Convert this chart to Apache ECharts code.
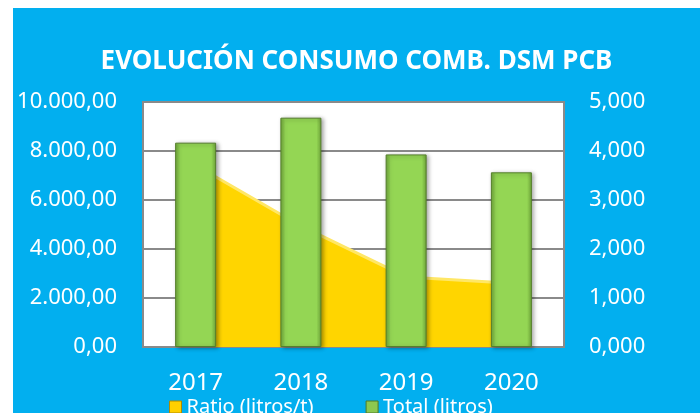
<!DOCTYPE html>
<html>
<head>
<meta charset="utf-8">
<script src="https://cdn.jsdelivr.net/npm/echarts@6/dist/echarts.min.js"></script>
<style>
  html, body { margin: 0; padding: 0; background: #ffffff; }
  #main { position: absolute; left: 13px; top: 8px; width: 687px; height: 405px; }
</style>
</head>
<body>
<div id="main"></div>
<script>
// datos del gráfico
var years = ["2017", "2018", "2019", "2020"];
var totalLitros = [8340, 9360, 7860, 7130];
var ratioLitrosT = [3.71, 2.47, 1.43, 1.3];
var leftTicks = [0, 2000, 4000, 6000, 8000, 10000];
var rightTicks = [0, 1, 2, 3, 4, 5];

// formato español: 10.000,00
function fmtLeft(v) {
  var s = v.toFixed(2).split(".");
  var ent = s[0].replace(/\B(?=(\d{3})+(?!\d))/g, ".");
  return ent + "," + s[1];
}
function fmtRight(v) {
  return v.toFixed(3).replace(".", ",");
}

var myChart = echarts.init(document.getElementById("main"));
myChart.setOption({
  backgroundColor: "#02AFEF",
  animation: false,
  textStyle: { fontFamily: "Noto Sans" },
  title: {
    text: "EVOLUCIÓN CONSUMO COMB. DSM PCB",
    left: "center",
    top: 36,
    textStyle: { color: "#ffffff", fontSize: 26, fontWeight: "bold", fontFamily: "Noto Sans" },
  },
  legend: {
    left: 151,
    top: 384,
    itemWidth: 12,
    itemHeight: 12,
    itemGap: 52,
    icon: "rect",
    textStyle: { color: "#ffffff", fontSize: 20 },
    data: [
      { name: "Ratio (litros/t)", itemStyle: { color: "#FFD000", borderColor: "#B08A00", borderWidth: 1 } },
      { name: "Total (litros)", itemStyle: { color: "#8CC850", borderColor: "#4F7A28", borderWidth: 1 } },
    ],
  },
  grid: {
    left: 130,
    right: 136,
    top: 94,
    bottom: 66,
    show: true,
    backgroundColor: "#ffffff",
    borderColor: "#8a8a8a",
    borderWidth: 2,
  },
  xAxis: {
    type: "category",
    data: years,
    axisTick: { show: false },
    axisLine: { lineStyle: { color: "#8a8a8a", width: 2 } },
    axisLabel: { color: "#ffffff", fontSize: 24, margin: 24 },
  },
  yAxis: [
    {
      type: "value",
      min: leftTicks[0],
      max: leftTicks[leftTicks.length - 1],
      interval: leftTicks[1] - leftTicks[0],
      axisLine: { show: false },
      axisTick: { show: false },
      splitLine: { lineStyle: { color: "#8a8a8a", width: 2 } },
      axisLabel: { color: "#ffffff", fontSize: 22, margin: 26, formatter: fmtLeft },
    },
    {
      type: "value",
      min: rightTicks[0],
      max: rightTicks[rightTicks.length - 1],
      interval: rightTicks[1] - rightTicks[0],
      axisLine: { show: false },
      axisTick: { show: false },
      splitLine: { show: false },
      axisLabel: { color: "#ffffff", fontSize: 22, margin: 25, formatter: fmtRight },
    },
  ],
  series: [
    {
      name: "Ratio (litros/t)",
      type: "line",
      yAxisIndex: 1,
      data: ratioLitrosT,
      symbol: "none",
      z: 1,
      lineStyle: { color: "#FFE766", width: 3 },
      areaStyle: { color: "#FFD500", opacity: 1 },
      itemStyle: { color: "#FFD000" },
    },
    {
      name: "Total (litros)",
      type: "bar",
      yAxisIndex: 0,
      data: totalLitros,
      barWidth: 41,
      z: 3,
      itemStyle: {
        color: new echarts.graphic.LinearGradient(0, 0, 1, 0, [
          { offset: 0, color: "#6FA53A" },
          { offset: 0.12, color: "#94D654" },
          { offset: 0.88, color: "#94D654" },
          { offset: 1, color: "#6FA53A" },
        ]),
        borderColor: "#557F2C",
        borderWidth: 1,
        shadowColor: "rgba(0,0,0,0.35)",
        shadowBlur: 4,
        shadowOffsetX: 2,
        shadowOffsetY: 1,
      },
    },
  ],
});
</script>
</body>
</html>
